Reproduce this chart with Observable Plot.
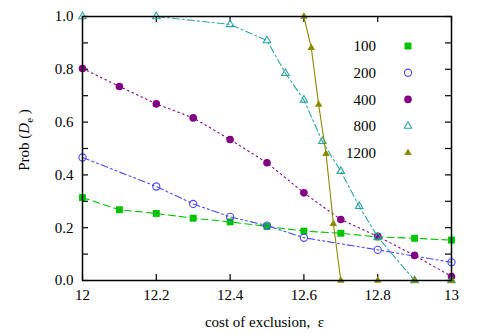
<!DOCTYPE html>
<html><head><meta charset="utf-8">
<script src="https://cdn.jsdelivr.net/npm/d3@7"></script>
<script src="https://cdn.jsdelivr.net/npm/@observablehq/plot@0.6"></script>
<style>body{margin:0;background:#fff} svg, svg text{font-family:'Liberation Serif','Times New Roman',serif !important}</style>
</head><body><div id="chart"></div>
<script>
const seriesNames = ["100", "200", "400", "800", "1200"];
const x100 = [12, 12.1, 12.2, 12.3, 12.4, 12.5, 12.6, 12.7, 12.8, 12.9, 13];
const y100 = [0.314, 0.268, 0.254, 0.236, 0.222, 0.205, 0.187, 0.179, 0.165, 0.160, 0.153];
const x200 = [12, 12.2, 12.3, 12.4, 12.5, 12.6, 12.8, 13];
const y200 = [0.466, 0.356, 0.290, 0.241, 0.208, 0.162, 0.116, 0.069];
const x400 = [12, 12.1, 12.2, 12.3, 12.4, 12.5, 12.6, 12.7, 12.8, 12.9, 13];
const y400 = [0.803, 0.735, 0.669, 0.616, 0.534, 0.446, 0.332, 0.231, 0.167, 0.095, 0.015];
const x800 = [12, 12.2, 12.4, 12.5, 12.55, 12.6, 12.65, 12.7, 12.75, 12.8, 12.9, 13];
const y800 = [1.0, 1.0, 0.970, 0.909, 0.785, 0.684, 0.527, 0.414, 0.281, 0.165, 0, 0];
const x1200 = [12.6, 12.62, 12.64, 12.66, 12.68, 12.7, 12.8, 12.9, 13];
const y1200 = [1.0, 0.881, 0.666, 0.480, 0.215, 0, 0, 0, 0];
const xTicks = [12, 12.2, 12.4, 12.6, 12.8, 13];
const yTicks = [0, 0.2, 0.4, 0.6, 0.8, 1.0];
const yMinorTicks = [0, 0.1, 0.2, 0.3, 0.4, 0.5, 0.6, 0.7, 0.8, 0.9, 1.0];

const styles = [
  {color: "#00c400", symbol: "square", filled: true, dash: "7,4", r: 3.9},
  {color: "#4a4aff", symbol: "circle", filled: false, dash: "7,3,2,3,2,3", r: 3.6},
  {color: "#820082", symbol: "circle", filled: true, dash: "1.5,3.5", r: 3.8},
  {color: "#2ea5a5", symbol: "triangle", filled: false, dash: "7,3,2,3", r: 2.8},
  {color: "#8a8a00", symbol: "triangle", filled: true, dash: null, r: 2.8}
];
const xs = [x100, x200, x400, x800, x1200];
const ys = [y100, y200, y400, y800, y1200];
const series = seriesNames.map((name, i) => xs[i].map((x, j) => ({name, x, y: ys[i][j]})));

const W = 491, H = 334, mL = 82, mR = 40, mT = 16, mB = 54;
const frameH = H - mT - mB, frameW = W - mL - mR;
const tk = 6;
const font = "'Liberation Serif', 'Times New Roman', serif";

const marks = [
  Plot.tickX(xTicks, {x: d => d, insetTop: frameH - tk, stroke: "#000", strokeWidth: 1.2}),
  Plot.tickX(xTicks, {x: d => d, insetBottom: frameH - tk, stroke: "#000", strokeWidth: 1.2}),
  Plot.tickY(yMinorTicks, {y: d => d, insetRight: frameW - tk, stroke: "#000", strokeWidth: 1.2}),
  Plot.tickY(yMinorTicks, {y: d => d, insetLeft: frameW - tk, stroke: "#000", strokeWidth: 1.2}),
  Plot.axisX(xTicks, {tickSize: 0, tickPadding: 9, fontSize: 15, label: null, tickFormat: d => String(d), fontFamily: font}),
  Plot.axisY(yTicks, {tickSize: 0, tickPadding: 9, fontSize: 15, label: null, tickFormat: d3.format(".1f"), fontFamily: font}),
];
series.forEach((data, i) => {
  const s = styles[i];
  marks.push(Plot.line(data, {x: "x", y: "y", stroke: s.color, strokeWidth: 1.1,
    strokeDasharray: s.dash || undefined}));
  marks.push(Plot.dot(data, {x: "x", y: "y", symbol: s.symbol, r: s.r,
    fill: s.filled ? s.color : "none", stroke: s.color, strokeWidth: s.filled ? 0 : 1.1}));
});
marks.push(Plot.frame({stroke: "#000", strokeWidth: 1.5}));

const chart = Plot.plot({
  width: W, height: H, marginLeft: mL, marginRight: mR, marginTop: mT, marginBottom: mB,
  style: {fontFamily: font, fontSize: "15px", color: "#000", background: "#fff"},
  x: {domain: [12, 13], axis: null},
  y: {domain: [0, 1], axis: null},
  marks
});
document.getElementById("chart").appendChild(chart);

const svg = d3.select(chart);
const rowY = i => mT + 30 + i * 26.7;
const legG = svg.append("g");
const sym = {square: d3.symbolSquare, circle: d3.symbolCircle, triangle: d3.symbolTriangle};
styles.forEach((s, i) => {
  legG.append("text").attr("x", W - mR - 75).attr("y", rowY(i)).attr("dy", "0.35em")
    .attr("text-anchor", "end").attr("font-family", font).attr("font-size", 15).text(seriesNames[i]);
  legG.append("path")
    .attr("d", d3.symbol(sym[s.symbol], Math.PI * s.r * s.r)())
    .attr("transform", `translate(${W - mR - 43},${rowY(i)})`)
    .attr("fill", s.filled ? s.color : "none").attr("stroke", s.filled ? "none" : s.color).attr("stroke-width", 1.1);
});
svg.append("text").attr("x", mL + frameW / 2 - 2).attr("y", H - 7).attr("text-anchor", "middle")
  .attr("font-family", font).attr("font-size", 15).text("cost of exclusion,\u00a0\u00a0\u03b5");
const yl = svg.append("text").attr("transform", `translate(29,140) rotate(-90)`).attr("text-anchor", "middle")
  .attr("font-family", font).attr("font-size", 15);
yl.append("tspan").text("Prob\u00a0(");
yl.append("tspan").attr("font-style", "italic").text("D");
yl.append("tspan").attr("font-size", 11).attr("dy", 4).text("e");
yl.append("tspan").attr("dy", -4).text("\u00a0)");
</script></body></html>
